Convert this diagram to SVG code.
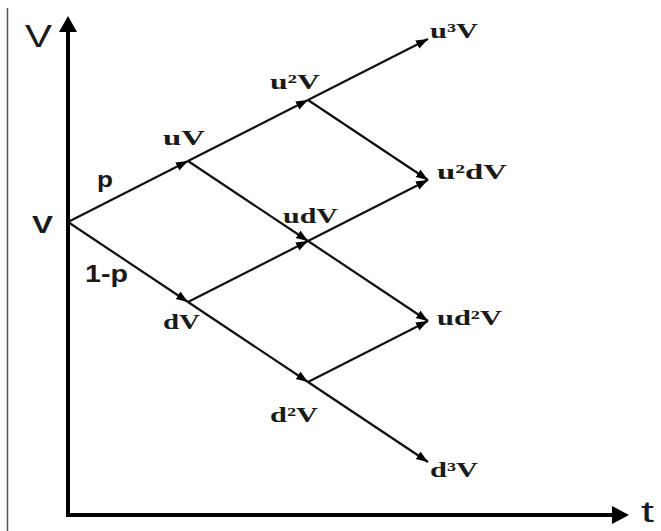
<svg xmlns="http://www.w3.org/2000/svg" width="661" height="531" viewBox="0 0 661 531">
<style>
.edge{stroke:#111;stroke-width:2.2;fill:none;marker-end:url(#ah)}
.axis{stroke:#000;stroke-width:4;fill:none}
.lbl{font-family:"Liberation Serif","Times New Roman",serif;font-weight:bold;font-size:21px;fill:#1a1a1a}
.sans{font-family:"Liberation Sans",Arial,sans-serif;fill:#1a1a1a}
</style>
<defs>
<marker id="ah" markerUnits="userSpaceOnUse" markerWidth="13" markerHeight="10" refX="12" refY="4.5" orient="auto">
<path d="M0,0 L12,4.5 L0,9 z" fill="#000"/>
</marker>
</defs>
<rect width="661" height="531" fill="#fff"/>
<line x1="7.5" y1="8" x2="7.5" y2="531" stroke="#555" stroke-width="1.5"/>
<g id="axes">
<path class="axis" d="M68,28 L68,515 L616,515"/>
<path d="M68,16 L59,32 L77,32 z" fill="#000"/>
<path d="M629,515 L612,506 L612,524 z" fill="#000"/>
<text class="sans" x="25" y="47" font-size="31" textLength="27" lengthAdjust="spacingAndGlyphs">V</text>
<text class="sans" x="641" y="522" font-size="30" textLength="13" lengthAdjust="spacingAndGlyphs">t</text>
</g>
<g id="connectors">
<line class="edge" x1="68" y1="222" x2="188" y2="161"/>
<line class="edge" x1="68" y1="222" x2="188" y2="302"/>
<line class="edge" x1="188" y1="161" x2="308" y2="100"/>
<line class="edge" x1="188" y1="161" x2="308" y2="241"/>
<line class="edge" x1="188" y1="302" x2="308" y2="241"/>
<line class="edge" x1="188" y1="302" x2="308" y2="382"/>
<line class="edge" x1="308" y1="100" x2="428" y2="39"/>
<line class="edge" x1="308" y1="100" x2="428" y2="180"/>
<line class="edge" x1="308" y1="241" x2="428" y2="180"/>
<line class="edge" x1="308" y1="241" x2="428" y2="321"/>
<line class="edge" x1="308" y1="382" x2="428" y2="321"/>
<line class="edge" x1="308" y1="382" x2="428" y2="462"/>
<text class="sans" x="97" y="187" font-size="22" font-weight="bold" textLength="16" lengthAdjust="spacingAndGlyphs">p</text>
<text class="sans" x="85" y="282" font-size="23" font-weight="bold" textLength="43" lengthAdjust="spacingAndGlyphs">1-p</text>
</g>
<g id="node-V"><text class="sans" x="32" y="233" font-size="24" font-weight="bold" textLength="21" lengthAdjust="spacingAndGlyphs">V</text></g>
<g id="node-uV"><text class="lbl" x="163" y="145" textLength="42" lengthAdjust="spacingAndGlyphs">uV</text></g>
<g id="node-dV"><text class="lbl" x="163" y="329" textLength="37" lengthAdjust="spacingAndGlyphs">dV</text></g>
<g id="node-u2V"><text class="lbl" x="270" y="89" textLength="50" lengthAdjust="spacingAndGlyphs">u²V</text></g>
<g id="node-udV"><text class="lbl" x="283" y="223" textLength="55" lengthAdjust="spacingAndGlyphs">udV</text></g>
<g id="node-d2V"><text class="lbl" x="270" y="422" textLength="48" lengthAdjust="spacingAndGlyphs">d²V</text></g>
<g id="node-u3V"><text class="lbl" x="430" y="38" textLength="48" lengthAdjust="spacingAndGlyphs">u³V</text></g>
<g id="node-u2dV"><text class="lbl" x="437" y="179" textLength="70" lengthAdjust="spacingAndGlyphs">u²dV</text></g>
<g id="node-ud2V"><text class="lbl" x="437" y="325" textLength="65" lengthAdjust="spacingAndGlyphs">ud²V</text></g>
<g id="node-d3V"><text class="lbl" x="430" y="477" textLength="48" lengthAdjust="spacingAndGlyphs">d³V</text></g>
</svg>
